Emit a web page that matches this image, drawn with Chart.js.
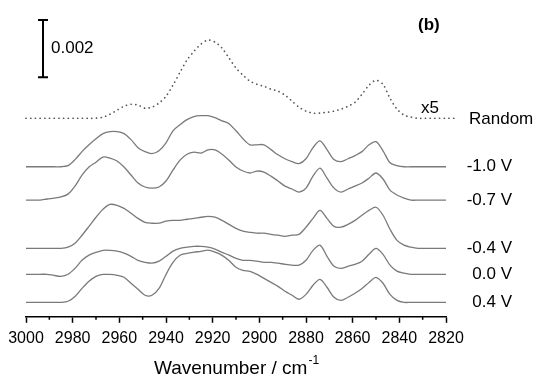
<!DOCTYPE html>
<html>
<head>
<meta charset="utf-8">
<script src="https://cdn.jsdelivr.net/npm/chart.js@4.4.0/dist/chart.umd.min.js"></script>
<style>
  html, body { margin: 0; padding: 0; background: #fff; }
</style>
</head>
<body>
<canvas id="spectra" width="545" height="378"></canvas>
<script>
// wavenumber grid, cm-1
const wavenumbers = [3000, 2997, 2994, 2991, 2988, 2985, 2982, 2979, 2976, 2973, 2970, 2967, 2964, 2961, 2958, 2955,
  2952, 2949, 2946, 2943, 2940, 2937, 2934, 2931, 2928, 2925, 2922, 2919, 2916, 2913, 2910, 2907, 2904, 2901, 2898,
  2895, 2892, 2889, 2886, 2883, 2880, 2877, 2874, 2871, 2868, 2865, 2862, 2859, 2856, 2853, 2850, 2847, 2844, 2841,
  2838, 2835, 2832, 2829, 2826, 2823, 2820];

// trace names and their stacking offsets (1e-4 absorbance units)
const traceNames = ["Random", "-1.0 V", "-0.7 V", "-0.4 V", "0.0 V", "0.4 V"];
const traceOffsets = [69.6, 52.6, 40.9, 24.0, 14.9, 5.05];

// absorbance above each baseline, 1e-4 units (Random already x5)
const absRandom = [0, 0, 0, 0, 0, 0, 0, 0, 0, 0, 0, 0.4, 1.4, 2.8, 4.2, 4.9, 4.6, 3.5, 3.9, 5.3, 7.7, 11.6, 16.1, 20.4,
  23.5, 26, 27.4, 26.7, 24.6, 21.1, 17.6, 15.1, 13, 11.9, 11.2, 10.2, 9.5, 8.1, 6, 3.9, 2.5, 1.8, 1.8, 2.1, 2.5, 3.2,
  4.2, 5.6, 8.4, 11.6, 13.3, 11.9, 7, 3.2, 1.1, 0.4, 0, 0, 0, 0, 0];
const wnRandomTail = [2816];
const absRandomTail = [0];

const absM10 = [0, 0, 0, 0, 0, 0, 0.4, 2.5, 5.3, 7.7, 9.8, 11.6, 12.3, 12.3, 11.6, 9.5, 6.7, 5.3, 4.6, 5.6, 8.4, 12.6,
  14.7, 16.5, 17.6, 17.9, 17.9, 17.2, 16.1, 15.1, 12.6, 9.8, 7.7, 7.7, 7.7, 6, 4.2, 2.8, 1.8, 1.1, 2.8, 6.7, 9.1, 6,
  2.5, 1.8, 2.8, 3.9, 5.3, 7.7, 8.8, 5.6, 1.4, 0.4, 0, 0, 0, 0, 0, 0, 0];

const absM07 = [0, 0, 0, 0.4, 0.7, 1.1, 2.1, 4.9, 8.8, 11.6, 13.3, 15.1, 14.7, 13.7, 11.6, 8.8, 6, 4.6, 4.2, 4.6, 6.7,
  10.5, 14, 16.1, 16.8, 16.5, 17.6, 17.6, 16.1, 14, 11.6, 10.2, 9.5, 10.2, 9.8, 8.4, 6.7, 4.9, 3.9, 2.8, 4.2, 8.4,
  11.2, 7.7, 4.2, 2.8, 3.9, 4.9, 6, 7.7, 9.5, 7.4, 3.5, 1.8, 0.7, 0, 0, 0, 0, 0, 0];

const absM04 = [0, 0, 0, 0, 0, 0, 0.4, 1.8, 4.6, 7.7, 10.9, 13.7, 15.4, 15.1, 14, 12.3, 10.5, 9.1, 8.8, 8.8, 9.5, 9.8,
  9.8, 10.2, 10.5, 10.9, 11.2, 10.9, 9.8, 8.4, 7, 6, 5.6, 5.3, 5.3, 4.9, 4.6, 4.2, 4.6, 4.9, 7.4, 10.5, 13.3, 10.5,
  7.7, 7.4, 8.4, 9.8, 11.6, 13.3, 14.4, 11.6, 6.7, 2.8, 1.1, 0.4, 0, 0, 0, 0, 0];

const absP00 = [0, 0, 0, 0, -0.4, -0.7, 0, 2.1, 4.9, 6.7, 7.7, 8.4, 8.4, 8.1, 7.4, 6.3, 4.9, 4.2, 3.9, 4.6, 6.3, 8.1,
  9.1, 9.5, 9.8, 9.8, 9.5, 8.8, 7.7, 6.7, 5.6, 4.9, 4.9, 4.6, 4.2, 4.2, 3.9, 3.5, 3.2, 3.2, 4.9, 8.4, 10.2, 6.3, 2.8,
  2.1, 2.8, 3.5, 4.6, 7, 9.1, 7, 3.2, 1.1, 0.4, 0, 0, 0, 0, 0, 0];

const absP04 = [0, 0, 0, 0, 0, 0, 0.4, 2.1, 4.9, 7.4, 9.1, 9.8, 9.8, 9.5, 8.8, 6.7, 4.6, 2.5, 2.5, 4.9, 9.8, 14, 16.5,
  17.2, 17.6, 17.9, 18.3, 17.6, 16.5, 14.7, 12.3, 11.2, 10.9, 9.8, 8.4, 7, 5.6, 3.9, 2.5, 1.1, 2.8, 6, 8.1, 5.3, 1.8,
  0.7, 1.8, 3.2, 4.9, 7, 8.8, 6.7, 2.8, 0.7, 0, 0, 0, 0, 0, 0, 0];

const traceValues = [absRandom, absM10, absM07, absM04, absP00, absP04];

// scale bar: 0.002 absorbance = 20 units
const scaleBarTop = 104;
const scaleBarSize = 20;
const scaleBarLabel = "0.002";

const FONT = "'Liberation Sans', Arial, sans-serif";

function toPoints(wn, vals, offset) {
  return wn.map((w, i) => ({ x: w, y: offset + vals[i] }));
}

const datasets = traceValues.map((vals, i) => {
  let pts = toPoints(wavenumbers, vals, traceOffsets[i]);
  if (i === 0) pts = pts.concat(toPoints(wnRandomTail, absRandomTail, traceOffsets[i]));
  return {
    label: traceNames[i],
    data: pts,
    borderColor: i === 0 ? "#555" : "#7a7a7a",
    borderWidth: i === 0 ? 1.7 : 1.3,
    borderDash: i === 0 ? [0.1, 4.6] : [],
    borderCapStyle: i === 0 ? "round" : "butt",
    pointRadius: 0,
    tension: 0.3,
    fill: false,
    clip: false
  };
});

const annotations = {
  id: "annotations",
  afterDraw(chart) {
    const { ctx, chartArea } = chart;
    const x = chart.scales.x, y = chart.scales.y;
    ctx.save();

    // minor ticks
    ctx.strokeStyle = "#000";
    ctx.lineWidth = 1.5;
    x.ticks.forEach(t => {
      if (t.value % 20 !== 0) {
        const px = x.getPixelForValue(t.value);
        ctx.beginPath();
        ctx.moveTo(px, chartArea.bottom);
        ctx.lineTo(px, chartArea.bottom + 3);
        ctx.stroke();
      }
    });

    // trace labels
    ctx.fillStyle = "#000";
    ctx.font = "17px " + FONT;
    ctx.textBaseline = "middle";
    traceNames.forEach((name, i) => {
      const py = y.getPixelForValue(traceOffsets[i]);
      if (i === 0) {
        ctx.textAlign = "left";
        ctx.fillText(name, chartArea.right + 23, py + 1);
      } else {
        ctx.textAlign = "right";
        ctx.fillText(name, chartArea.right + 66, py);
      }
    });
    ctx.textAlign = "left";
    ctx.fillText("x5", chartArea.right - 25, y.getPixelForValue(traceOffsets[0]) - 10);

    // panel tag
    ctx.font = "bold 17px " + FONT;
    ctx.fillText("(b)", chartArea.right - 28, 25);

    // scale bar
    const bx = chartArea.left + 17;
    const y1 = y.getPixelForValue(scaleBarTop), y2 = y.getPixelForValue(scaleBarTop - scaleBarSize);
    ctx.lineWidth = 2;
    ctx.beginPath();
    ctx.moveTo(bx, y1); ctx.lineTo(bx, y2);
    ctx.moveTo(bx - 5, y1); ctx.lineTo(bx + 5, y1);
    ctx.moveTo(bx - 5, y2); ctx.lineTo(bx + 5, y2);
    ctx.stroke();
    ctx.font = "17px " + FONT;
    ctx.fillText(scaleBarLabel, bx + 8, (y1 + y2) / 2);

    // axis title with superscript
    const main = "Wavenumber / cm", sup = "-1";
    ctx.font = "19px " + FONT;
    const wMain = ctx.measureText(main).width;
    ctx.font = "12px " + FONT;
    const wSup = ctx.measureText(sup).width;
    const cx = (chartArea.left + chartArea.right) / 2;
    const sx = cx - (wMain + wSup) / 2;
    ctx.textBaseline = "alphabetic";
    ctx.font = "19px " + FONT;
    ctx.fillText(main, sx, 374);
    ctx.font = "12px " + FONT;
    ctx.fillText(sup, sx + wMain + 1, 364);

    ctx.restore();
  }
};

new Chart(document.getElementById("spectra").getContext("2d"), {
  type: "line",
  data: { datasets },
  options: {
    responsive: false,
    animation: false,
    layout: { padding: { left: 26, right: 99, top: 3, bottom: 24 } },
    plugins: { legend: { display: false }, tooltip: { enabled: false } },
    scales: {
      x: {
        type: "linear",
        reverse: true,
        min: 2820,
        max: 3000,
        ticks: {
          stepSize: 10,
          autoSkip: false,
          maxRotation: 0,
          color: "#000",
          padding: 6,
          font: { family: FONT, size: 16 },
          callback: v => (v % 20 === 0 ? String(v) : "")
        },
        grid: {
          drawOnChartArea: false,
          tickLength: 6,
          tickWidth: 1.5,
          tickColor: c => (c.tick && c.tick.value % 20 !== 0 ? "rgba(0,0,0,0)" : "#000")
        },
        border: { color: "#000", width: 1.5 }
      },
      y: { display: false, min: 0, max: 110 }
    }
  },
  plugins: [annotations]
});
</script>
</body>
</html>
